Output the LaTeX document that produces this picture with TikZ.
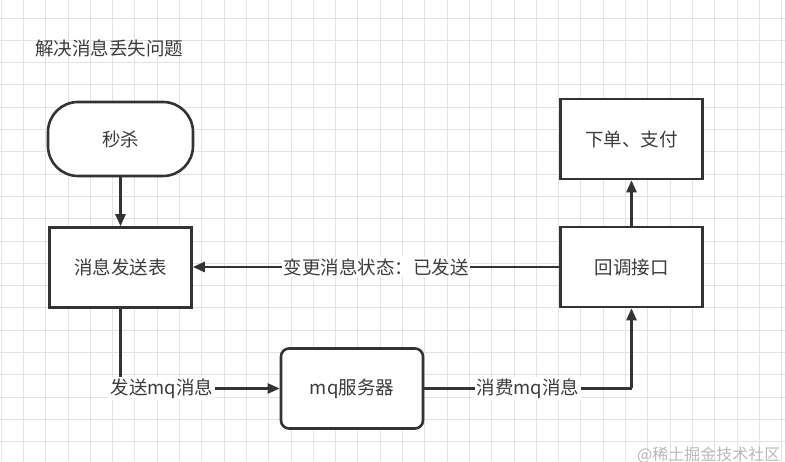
\documentclass[tikz,border=0pt]{standalone}
\usepackage{fontspec}
\setmainfont{Noto Sans CJK SC}
\usetikzlibrary{arrows.meta}
\definecolor{linec}{HTML}{333333}
\definecolor{txtc}{HTML}{3C3C3C}
\definecolor{gridc}{HTML}{E3E3E3}
\newcommand\dfont{\fontsize{18.5pt}{22pt}\selectfont}
\begin{document}
\begin{tikzpicture}[x=1pt,y=-1pt,
  box/.style={draw=linec, line width=2.6pt, fill=white, inner sep=0pt,
    minimum width=142pt, minimum height=80pt, font=\dfont, text=txtc},
  term/.style={box, rounded corners=30pt, minimum width=145pt, minimum height=74pt},
  rbox/.style={box, rounded corners=8pt},
  conn/.style={draw=linec, line width=2.3pt, -{Triangle[length=12pt,width=10pt]}},
  elabel/.style={fill=white, inner sep=1.5pt, font=\dfont, text=txtc},
  gridline/.style={draw=gridc, line width=0.8pt}]
\useasboundingbox (0,0) rectangle (785,462);
\fill[white] (0,0) rectangle (785,462);
% grid
\foreach \i in {0,...,35} \draw[gridline] ({1+22.3*\i},0) -- ({1+22.3*\i},462);
\foreach \j in {-1,...,20} \draw[gridline] (0,{18+22.3*\j}) -- (785,{18+22.3*\j});

% title
\node[anchor=west, font=\dfont, text=txtc, inner sep=0pt] (title) at (35,48) {解决消息丢失问题};

% nodes
\node[term] (ms) at (120.5,139) {秒杀};
\node[box] (tbl) at (120.5,267.5) {消息发送表};
\node[rbox] (mq) at (352,388.5) {mq服务器};
\node[box] (cb) at (631.5,267) {回调接口};
\node[box] (pay) at (631.5,139) {下单、支付};

% connectors
\draw[conn] (ms) -- (tbl);
\draw[conn] (cb.west) -- node[elabel] {变更消息状态：已发送} (tbl.east |- cb.west);
\draw[conn] (tbl.south) |- node[elabel, pos=0.63] {发送mq消息} (mq.west);
\coordinate (mqcorner) at (cb.south |- mq.east);
\draw[linec, line width=2.3pt] (mq.east) -- node[elabel, pos=0.5] {消费mq消息} (mqcorner);
\draw[conn] (mqcorner) -- (cb.south);
\draw[conn] (cb) -- (pay);

% watermark
\node[anchor=west, font=\fontsize{16pt}{18pt}\selectfont, text=gray!55, inner sep=0pt] (wm) at (637,455) {@稀土掘金技术社区};
\end{tikzpicture}
\end{document}
